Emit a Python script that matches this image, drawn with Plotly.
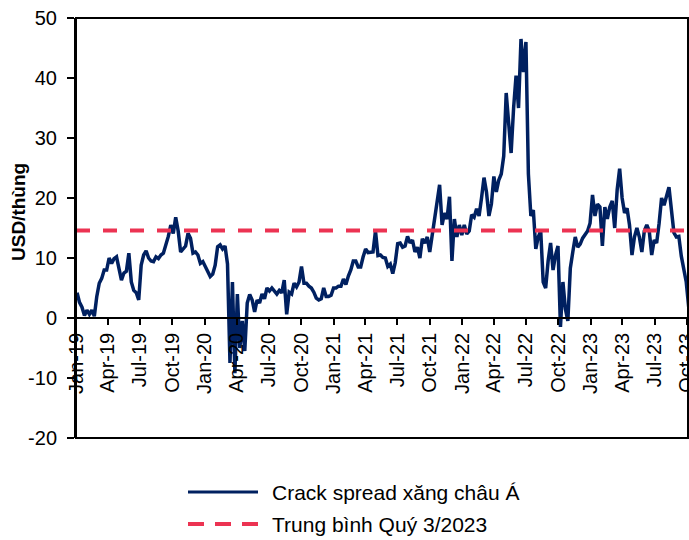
import plotly.graph_objects as go
import pandas as pd

# Weekly crack spread values (USD/thùng)
crack_values = [
    4.2, 2.6, 1.8, 0.4, 1.3, 0.6, 1.3, 0.3, 3.6, 5.8,
    6.6, 8.0, 8.0, 10.0, 9.1, 9.9, 10.2, 7.9, 6.3, 7.5,
    7.8, 10.8, 6.0, 4.6, 4.2, 3.0, 8.8, 10.5, 11.2, 10.0,
    9.5, 9.4, 10.2, 9.9, 10.5, 10.8, 12.0, 13.6, 15.5, 14.1,
    16.8, 14.5, 11.0, 11.5, 12.0, 14.1, 13.3, 10.8, 11.0, 10.5,
    9.1, 9.4, 8.6, 7.9, 6.9, 7.3, 8.8, 11.9, 12.2, 11.5,
    12.0, 9.0, -7.5, 6.0, -9.2, 4.0, -5.0, -0.5, -5.5, 2.5,
    3.9, 3.0, 1.0, 3.0, 2.5, 4.0, 3.2, 5.0, 4.5, 5.0,
    4.5, 4.0, 4.6, 4.2, 6.3, 0.6, 4.3, 4.0, 5.8, 5.2,
    6.0, 8.6, 5.8, 5.8, 5.3, 5.0, 4.3, 3.3, 3.0, 3.2,
    5.0, 3.6, 3.6, 3.8, 5.0, 5.0, 5.3, 5.3, 6.5, 5.6,
    7.0, 8.0, 9.5, 9.5, 8.5, 8.5, 10.2, 11.5, 10.9, 11.0,
    11.0, 14.5, 10.4, 10.5, 10.1, 10.0, 8.6, 9.0, 7.4, 9.2,
    12.4, 12.5, 11.8, 12.0, 13.6, 12.5, 13.0, 11.0, 11.8, 10.0,
    13.2, 12.5, 13.5, 11.0, 14.0, 16.5, 19.5, 22.2, 15.5, 17.5,
    16.5, 20.2, 9.5, 16.5, 13.5, 15.5, 13.8, 15.5, 14.0, 14.5,
    17.2, 16.8, 18.2, 17.0, 20.0, 23.4, 21.0, 17.0, 19.0, 23.6,
    21.0, 23.0, 24.0, 27.0, 37.5, 33.0, 27.5, 35.0, 40.4, 35.0,
    46.5, 41.0, 46.0, 24.0, 17.0, 18.0, 11.5, 13.5, 14.5, 6.0,
    5.0, 9.5, 12.5, 8.0, 10.5, 12.0, -1.5, 6.0, 1.5, -0.5,
    8.3, 11.0, 13.5, 11.8, 12.3, 13.3, 13.8, 14.5, 15.8, 20.5,
    17.0, 19.0, 18.5, 12.0, 18.5, 16.5, 18.5, 19.5, 15.0, 21.4,
    24.9, 20.0, 17.5, 18.3, 15.5, 10.5, 13.5, 15.0, 13.5, 11.0,
    14.5, 15.5, 14.5, 10.5, 13.0, 12.5, 15.8, 20.0, 18.8, 20.5,
    21.8, 18.0, 14.2, 13.5, 13.6, 10.3, 8.0, 6.0, 1.8,
]
crack_dates = pd.date_range("2019-01-04", periods=len(crack_values), freq="7D")

q3_2023_avg = 14.6
x_start, x_end = "2019-01-01", "2023-10-04"

y_ticks = [-20, -10, 0, 10, 20, 30, 40, 50]
y_tick_labels = [str(v) for v in y_ticks]

series_names = ["Crack spread xăng châu Á", "Trung bình Quý 3/2023"]
series_colors = ["#002060", "#EC3352"]
y_title = "USD/thùng"

fig = go.Figure()
fig.add_trace(go.Scatter(
    x=crack_dates, y=crack_values, mode="lines", name=series_names[0],
    showlegend=False, line=dict(color=series_colors[0], width=3.5),
))
fig.add_trace(go.Scatter(
    x=[x_start, x_end], y=[q3_2023_avg, q3_2023_avg], mode="lines",
    name=series_names[1], showlegend=False,
    line=dict(color=series_colors[1], width=4, dash="14px,13px"),
))

# Legend drawn below the plot (longer sample lines as in the original)
leg_x0, leg_x1, leg_tx = (188 - 76) / 612, (258 - 76) / 612, (270 - 76) / 612
leg_rows = [(438 - 492) / 420, (438 - 524) / 420]
leg_dash = ["solid", "16px,11px"]
leg_width = [3, 4]
shapes = [dict(type="rect", xref="paper", yref="paper", x0=0, x1=1, y0=0, y1=1,
               line=dict(color="black", width=2), layer="above")]
annotations = [dict(xref="paper", yref="paper", x=(18 - 76) / 612, y=(438 - 212) / 420,
                    text="<b>" + y_title + "</b>", textangle=-90, showarrow=False,
                    xanchor="center", yanchor="middle", font=dict(size=19, color="black"))]
for name, color, ly, dash, w in zip(series_names, series_colors, leg_rows, leg_dash, leg_width):
    shapes.append(dict(type="line", xref="paper", yref="paper", x0=leg_x0, x1=leg_x1,
                       y0=ly, y1=ly, line=dict(color=color, width=w, dash=dash)))
    annotations.append(dict(xref="paper", yref="paper", x=leg_tx, y=ly, text=name,
                            showarrow=False, xanchor="left", yanchor="middle",
                            font=dict(size=21, color="black")))

fig.update_layout(
    width=689, height=540,
    margin=dict(l=76, r=1, t=18, b=102),
    plot_bgcolor="white", paper_bgcolor="white",
    font=dict(family="Liberation Sans, Arial, sans-serif", size=20, color="black"),
    showlegend=False,
    xaxis=dict(
        type="date", range=[x_start, x_end], anchor="free", position=20 / 70,
        tickformat="%b-%y", dtick="M3", tick0="2019-01-01", tickangle=-90,
        ticks="outside", ticklen=6, tickcolor="black", tickwidth=1.5,
        showline=True, linecolor="black", linewidth=1.5, ticklabeloverflow="allow",
        showgrid=False, zeroline=False, automargin=False,
    ),
    yaxis=dict(
        range=[-20, 50], tickvals=y_ticks, ticktext=y_tick_labels,
        ticks="outside", ticklen=7, tickcolor="black",
        tickwidth=1.5, showline=True, linecolor="black", linewidth=2,
        showgrid=False, zeroline=False, automargin=False, ticklabelstandoff=6,
    ),
    shapes=shapes,
    annotations=annotations,
)

fig.write_html("out.html", config={"displayModeBar": False},
               post_script="document.body.style.margin='0px';")
